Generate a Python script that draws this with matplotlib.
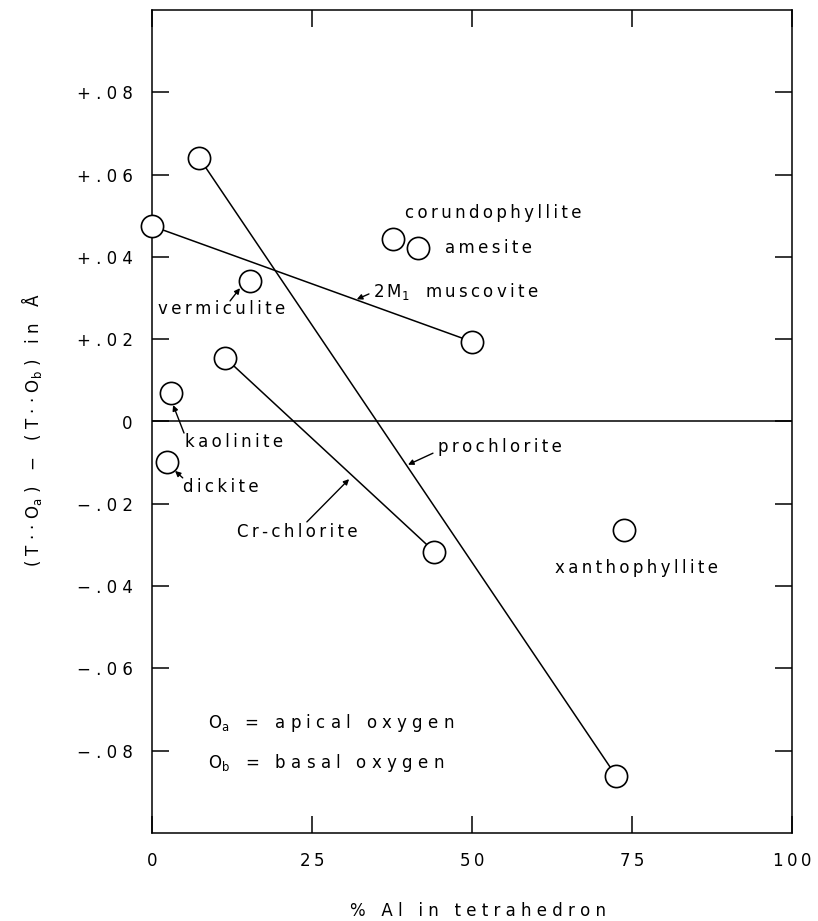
import matplotlib
matplotlib.use("Agg")
import matplotlib.pyplot as plt

# data: % Al in tetrahedron vs (T..Oa) - (T..Ob) in Angstrom
# pairs joined by a line
musc_al = [0.0, 50.0]
musc_d = [0.0475, 0.0194]
prochl_al = [7.4, 72.5]
prochl_d = [0.064, -0.0861]
crchl_al = [11.4, 44.1]
crchl_d = [0.0155, -0.0316]

# single points
single_names = ["vermiculite", "corundophyllite", "amesite",
                "kaolinite", "dickite", "xanthophyllite"]
single_al = [15.3, 37.7, 41.5, 2.9, 2.4, 73.75]
single_d = [0.0342, 0.0443, 0.0421, 0.0069, -0.0098, -0.0264]

xticks = [0, 25, 50, 75, 100]
yticks = [0.08, 0.06, 0.04, 0.02, 0.0, -0.02, -0.04, -0.06, -0.08]
ytick_labels = ["+.08", "+.06", "+.04", "+.02", "0", "−.02", "−.04", "−.06", "−.08"]

THIN = "\u2009"
OA = r"$\mathregular{O_a}$"
OB = r"$\mathregular{O_b}$"


def sp(s, gap=THIN):
    # fake the letter spaced lettering of the original
    return gap.join(s)


FS = 12

fig = plt.figure(figsize=(8.18, 9.21), dpi=100)
ax = fig.add_axes([152 / 818, 1 - 833 / 921, 640 / 818, 823 / 921])

ax.set_xlim(0, 100)
ax.set_ylim(-0.10, 0.10)

mk = dict(marker="o", markersize=16, markerfacecolor="white",
          markeredgecolor="black", markeredgewidth=1.2, color="black",
          clip_on=False, zorder=3)
ax.plot(musc_al, musc_d, linewidth=1.1, **mk)
ax.plot(prochl_al, prochl_d, linewidth=1.1, **mk)
ax.plot(crchl_al, crchl_d, linewidth=1.1, **mk)
ax.plot(single_al, single_d, linestyle="none", **mk)

ax.axhline(0, color="black", linewidth=1.1, zorder=1)

for s in ax.spines.values():
    s.set_linewidth(1.1)

ax.set_xticks(xticks)
ax.set_xticklabels([sp(str(t)) for t in xticks], fontsize=FS)
ax.set_yticks(yticks)
ax.set_yticklabels([" ".join(t) if t != "0" else t for t in ytick_labels], fontsize=FS)
ax.tick_params(direction="in", length=12, width=1.1, top=True, right=True)
ax.tick_params(axis="y", pad=14)
ax.tick_params(axis="x", pad=14)

txt = dict(fontsize=FS, ha="left", va="center")
ax.text(39.5, 0.0507, sp("corundophyllite"), **txt)
ax.text(45.8, 0.0422, sp("amesite"), **txt)
ax.text(34.5, 0.0315, "2" + THIN + r"$\mathregular{M_1}$" + "   " + sp("muscovite"), **txt)
ax.text(0.9, 0.0273, sp("vermiculite"), **txt)
ax.text(5.2, -0.0050, sp("kaolinite"), **txt)
ax.text(4.85, -0.0159, sp("dickite"), **txt)
ax.text(44.7, -0.0062, sp("prochlorite"), **txt)
ax.text(13.3, -0.0269, sp("Cr-chlorite"), **txt)
ax.text(63.0, -0.0356, sp("xanthophyllite"), **txt)
ax.text(8.75, -0.0733, OA + "   =   " + sp("apical", " ") + "   " + sp("oxygen", " "), **txt)
ax.text(8.75, -0.0830, OB + "   =   " + sp("basal", " ") + "   " + sp("oxygen", " "), **txt)

arrow = dict(arrowstyle="-|>", color="black", lw=1.0, mutation_scale=8,
             shrinkA=0, shrinkB=0)
pointers = [
    ((32.0, 0.0297), (33.9, 0.0310)),    # muscovite
    ((13.75, 0.0324), (12.2, 0.0293)),   # vermiculite
    ((3.3, 0.0040), (5.0, -0.0028)),     # kaolinite
    ((3.6, -0.0120), (4.8, -0.0137)),    # dickite
    ((40.0, -0.0105), (43.9, -0.0077)),  # prochlorite
    ((30.8, -0.0140), (24.2, -0.0244)),  # Cr-chlorite
]
for tip, tail in pointers:
    ax.annotate("", xy=tip, xytext=tail, arrowprops=arrow)

ylab = ("( T · · " + OA + " )   −   ( T · · " + OB + " )   "
        + sp("in", " ") + "   Å")
fig.text(32 / 818, 1 - 430 / 921, ylab,
         rotation=90, ha="center", va="center", fontsize=FS)
fig.text(478 / 818, 1 - 911 / 921,
         sp("%", " ") + "   " + sp("Al", " ") + "   " + sp("in", " ") + "   "
         + sp("tetrahedron", " "), ha="center", va="center", fontsize=FS)

fig.savefig("out.png", dpi=100, facecolor="white")
